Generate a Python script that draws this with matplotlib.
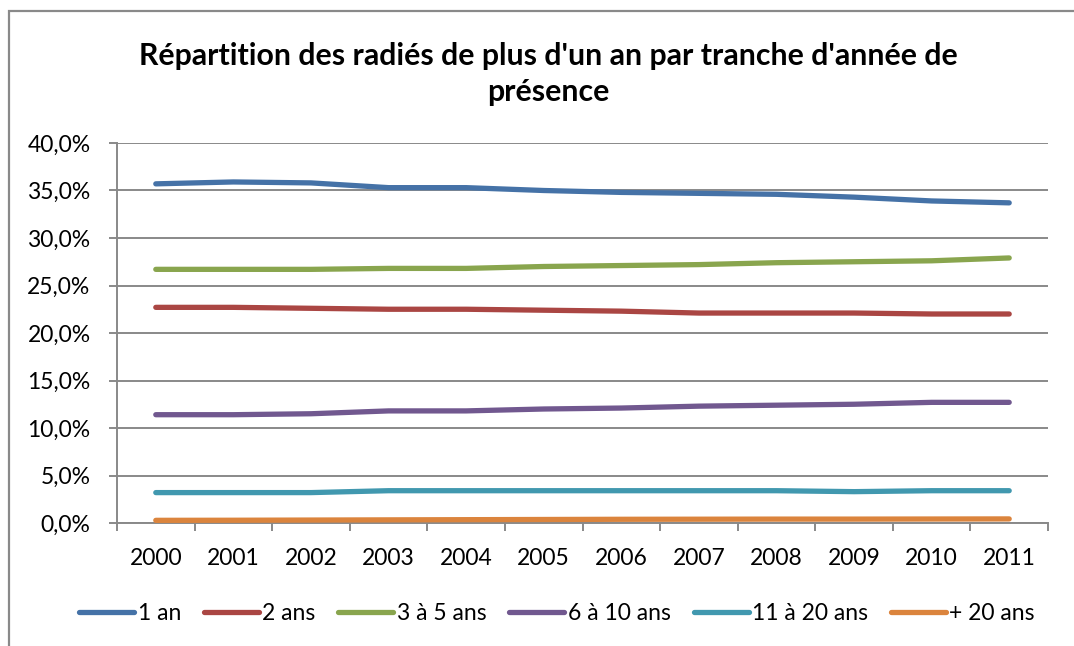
import matplotlib.pyplot as plt
from matplotlib.patches import Rectangle
from matplotlib.ticker import FuncFormatter, FixedLocator

# data (share of people removed, %)
years = ['2000', '2001', '2002', '2003', '2004', '2005',
         '2006', '2007', '2008', '2009', '2010', '2011']
an_1 = [35.7, 35.9, 35.8, 35.3, 35.3, 35.0, 34.8, 34.7, 34.6, 34.3, 33.9, 33.7]
ans_2 = [22.7, 22.7, 22.6, 22.5, 22.5, 22.4, 22.3, 22.1, 22.1, 22.1, 22.0, 22.0]
ans_3_5 = [26.7, 26.7, 26.7, 26.8, 26.8, 27.0, 27.1, 27.2, 27.4, 27.5, 27.6, 27.9]
ans_6_10 = [11.4, 11.4, 11.5, 11.8, 11.8, 12.0, 12.1, 12.3, 12.4, 12.5, 12.7, 12.7]
ans_11_20 = [3.2, 3.2, 3.2, 3.4, 3.4, 3.4, 3.4, 3.4, 3.4, 3.3, 3.4, 3.4]
ans_20p = [0.28, 0.29, 0.31, 0.33, 0.35, 0.37, 0.39, 0.40, 0.41, 0.41, 0.42, 0.43]

labels = ['1 an', '2 ans', '3 à 5 ans', '6 à 10 ans', '11 à 20 ans', '+ 20 ans']
colors = ['#4572A7', '#AA4643', '#89A54E', '#71588F', '#4198AF', '#DB843D']

plt.rcParams['font.family'] = ['Lato', 'DejaVu Sans']
GRID = '#898989'
FS = 16.5

fig = plt.figure(figsize=(10.74, 6.46), dpi=100)
ax = fig.add_axes([117 / 1074, 1 - 523 / 646, 931 / 1074, 380 / 646])

x = list(range(len(years)))
series = [an_1, ans_2, ans_3_5, ans_6_10, ans_11_20, ans_20p]
for vals, lab, col in zip(series, labels, colors):
    ax.plot(x, [v / 100 for v in vals], color=col, lw=3.8, label=lab,
            solid_capstyle='round', solid_joinstyle='round', zorder=3)

ax.set_xlim(-0.5, len(years) - 0.5)
ax.set_ylim(0, 0.40)
ax.set_yticks([i * 0.05 for i in range(9)])
ax.yaxis.set_major_formatter(FuncFormatter(lambda v, p: f'{v * 100:.1f}%'.replace('.', ',')))
ax.yaxis.grid(True, color=GRID, lw=1.4, zorder=1)

# tick marks between categories, labels at centres
ax.xaxis.set_major_locator(FixedLocator([i - 0.5 for i in range(len(years) + 1)]))
ax.xaxis.set_major_formatter(FuncFormatter(lambda v, p: ''))
ax.xaxis.set_minor_locator(FixedLocator(x))
ax.set_xticklabels(years, minor=True)
ax.tick_params(axis='x', which='major', length=6, width=1.4, color=GRID, direction='out')
ax.tick_params(axis='x', which='minor', length=0, pad=18, labelsize=FS)
ax.tick_params(axis='y', length=6, width=1.4, color=GRID, direction='out', labelsize=FS, pad=13)

for s in ['top', 'right']:
    ax.spines[s].set_visible(False)
for s in ['left', 'bottom']:
    ax.spines[s].set_color(GRID)
    ax.spines[s].set_linewidth(1.4)

fig.text(548 / 1074, 1 - 74 / 646,
         "Répartition des radiés de plus d'un an par tranche d'année de\nprésence",
         ha='center', va='center', fontsize=21.8, fontweight='bold', linespacing=1.38)

ax.legend(loc='center', bbox_to_anchor=(557 / 1074, 1 - 614 / 646),
          bbox_transform=fig.transFigure, ncol=6, frameon=False, fontsize=FS,
          handlelength=2.4, handletextpad=0.15, columnspacing=1.0,
          borderaxespad=0, borderpad=0)

# chart frame (cropped on the right and bottom in the source image)
fig.patches.append(Rectangle((8.5 / 1074, -0.5), 2.0, 1 - 11 / 646 + 0.5,
                             transform=fig.transFigure, fill=False,
                             edgecolor=GRID, lw=1.6))

fig.savefig('out.png', dpi=100)
